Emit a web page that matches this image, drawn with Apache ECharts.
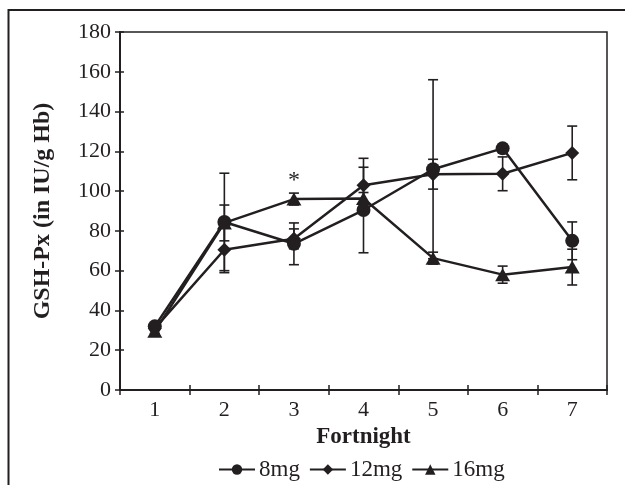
<!DOCTYPE html>
<html>
<head>
<meta charset="utf-8">
<script src="https://cdn.jsdelivr.net/npm/echarts@6/dist/echarts.min.js"></script>
<style>
html, body { margin: 0; padding: 0; background: #fff; }
#main { width: 625px; height: 485px; }
</style>
</head>
<body>
<div id="main"></div>
<script>
// fortnight categories
var fortnights = ['1', '2', '3', '4', '5', '6', '7'];
// y axis range
var yMin = 0, yMax = 180, yStep = 20;

// GSH-Px means and error (±) per dose
var mg8 = [32, 84.5, 73.5, 90.5, 111, 121.5, 75];
var mg8Err = [1, 24.5, 10.5, 21.5, 45, 2, 9.5];
var mg12 = [31, 70.5, 76, 103, 108.5, 108.7, 119.2];
var mg12Err = [1, 11.5, 5, 13.5, 7.5, 8.5, 13.5];
var mg16 = [29.5, 84, 96, 96.3, 66.3, 58, 61.8];
var mg16Err = [1, 9, 3, 3, 3, 4.3, 9];
var mg16Marks = ['', '', '*', '', '', '', ''];

var ink = '#231f20';
var serif = '"Liberation Serif", "DejaVu Serif", serif';

function errData(vals, errs) {
	return vals.map(function (v, i) { return [i, v - errs[i], v + errs[i]]; });
}

function errRender(params, api) {
	var i = api.value(0);
	var lo = api.coord([i, api.value(1)]);
	var hi = api.coord([i, api.value(2)]);
	var w = 5;
	var st = { stroke: ink, lineWidth: 1.6 };
	return {
		type: 'group',
		children: [
			{ type: 'line', shape: { x1: lo[0], y1: lo[1], x2: hi[0], y2: hi[1] }, style: st },
			{ type: 'line', shape: { x1: lo[0] - w, y1: lo[1], x2: lo[0] + w, y2: lo[1] }, style: st },
			{ type: 'line', shape: { x1: hi[0] - w, y1: hi[1], x2: hi[0] + w, y2: hi[1] }, style: st }
		]
	};
}

function errSeries(vals, errs) {
	return {
		type: 'custom',
		renderItem: errRender,
		data: errData(vals, errs),
		encode: { x: 0, y: [1, 2] },
		z: 1,
		silent: true
	};
}

function lineSeries(name, vals, symbol, size, marks) {
	return {
		name: name,
		type: 'line',
		symbol: symbol,
		symbolSize: size,
		data: vals.map(function (v, i) {
			var m = marks ? marks[i] : '';
			if (!m) return v;
			return {
				value: v,
				label: { show: true, formatter: m, position: 'top', distance: 0, fontSize: 24, fontFamily: serif, color: ink }
			};
		}),
		lineStyle: { color: ink, width: 2.5 },
		itemStyle: { color: ink },
		z: 3
	};
}

var myChart = echarts.init(document.getElementById('main'));

var option = {
	animation: false,
	backgroundColor: '#fff',
	textStyle: { fontFamily: serif, color: ink },
	grid: {
		left: 120, top: 32, right: 18, bottom: 95,
		show: true, borderColor: ink, borderWidth: 1.5, backgroundColor: 'transparent'
	},
	legend: {
		data: ['8mg', '12mg', '16mg'],
		left: 213, top: 453,
		itemWidth: 36, itemHeight: 13, itemGap: 9,
		textStyle: { fontFamily: serif, fontSize: 23, color: ink, padding: [0, 0, 0, -1] }
	},
	xAxis: [
		{
			type: 'category',
			data: fortnights,
			boundaryGap: true,
			name: 'Fortnight',
			nameLocation: 'middle',
			nameGap: 35,
			nameTextStyle: { fontFamily: serif, fontSize: 23, fontWeight: 'bold', color: ink },
			axisLine: { lineStyle: { color: ink, width: 2 } },
			axisTick: { show: true, length: 5, lineStyle: { color: ink, width: 1.5 } },
			axisLabel: { fontFamily: serif, fontSize: 22, color: ink, margin: 9 },
			splitLine: { show: false }
		},
		{
			type: 'category',
			data: fortnights,
			position: 'bottom',
			boundaryGap: true,
			axisLine: { show: false },
			axisTick: { show: true, inside: true, length: 5, lineStyle: { color: ink, width: 1.5 } },
			axisLabel: { show: false },
			splitLine: { show: false }
		}
	],
	yAxis: [
		{
			type: 'value',
			min: yMin, max: yMax, interval: yStep,
			name: 'GSH-Px (in IU/g Hb)',
			nameLocation: 'middle',
			nameGap: 65,
			nameTextStyle: { fontFamily: serif, fontSize: 24, fontWeight: 'bold', color: ink },
			axisLine: { show: true, lineStyle: { color: ink, width: 2 } },
			axisTick: { show: true, length: 5, lineStyle: { color: ink, width: 1.5 } },
			axisLabel: { fontFamily: serif, fontSize: 22, color: ink, margin: 9 },
			splitLine: { show: false }
		},
		{
			type: 'value',
			position: 'left',
			min: yMin, max: yMax, interval: yStep,
			axisLine: { show: false },
			axisTick: { show: true, inside: true, length: 4, lineStyle: { color: ink, width: 1.5 } },
			axisLabel: { show: false },
			splitLine: { show: false }
		}
	],
	series: [
		errSeries(mg8, mg8Err),
		errSeries(mg12, mg12Err),
		errSeries(mg16, mg16Err),
		lineSeries('8mg', mg8, 'circle', 14),
		lineSeries('12mg', mg12, 'diamond', 14),
		lineSeries('16mg', mg16, 'triangle', [15, 13], mg16Marks)
	],
	graphic: [
		{
			type: 'rect',
			shape: { x: 8.5, y: 10, width: 800, height: 800 },
			style: { fill: null, stroke: ink, lineWidth: 2 },
			silent: true
		}
	]
};

myChart.setOption(option);
</script>
</body>
</html>
